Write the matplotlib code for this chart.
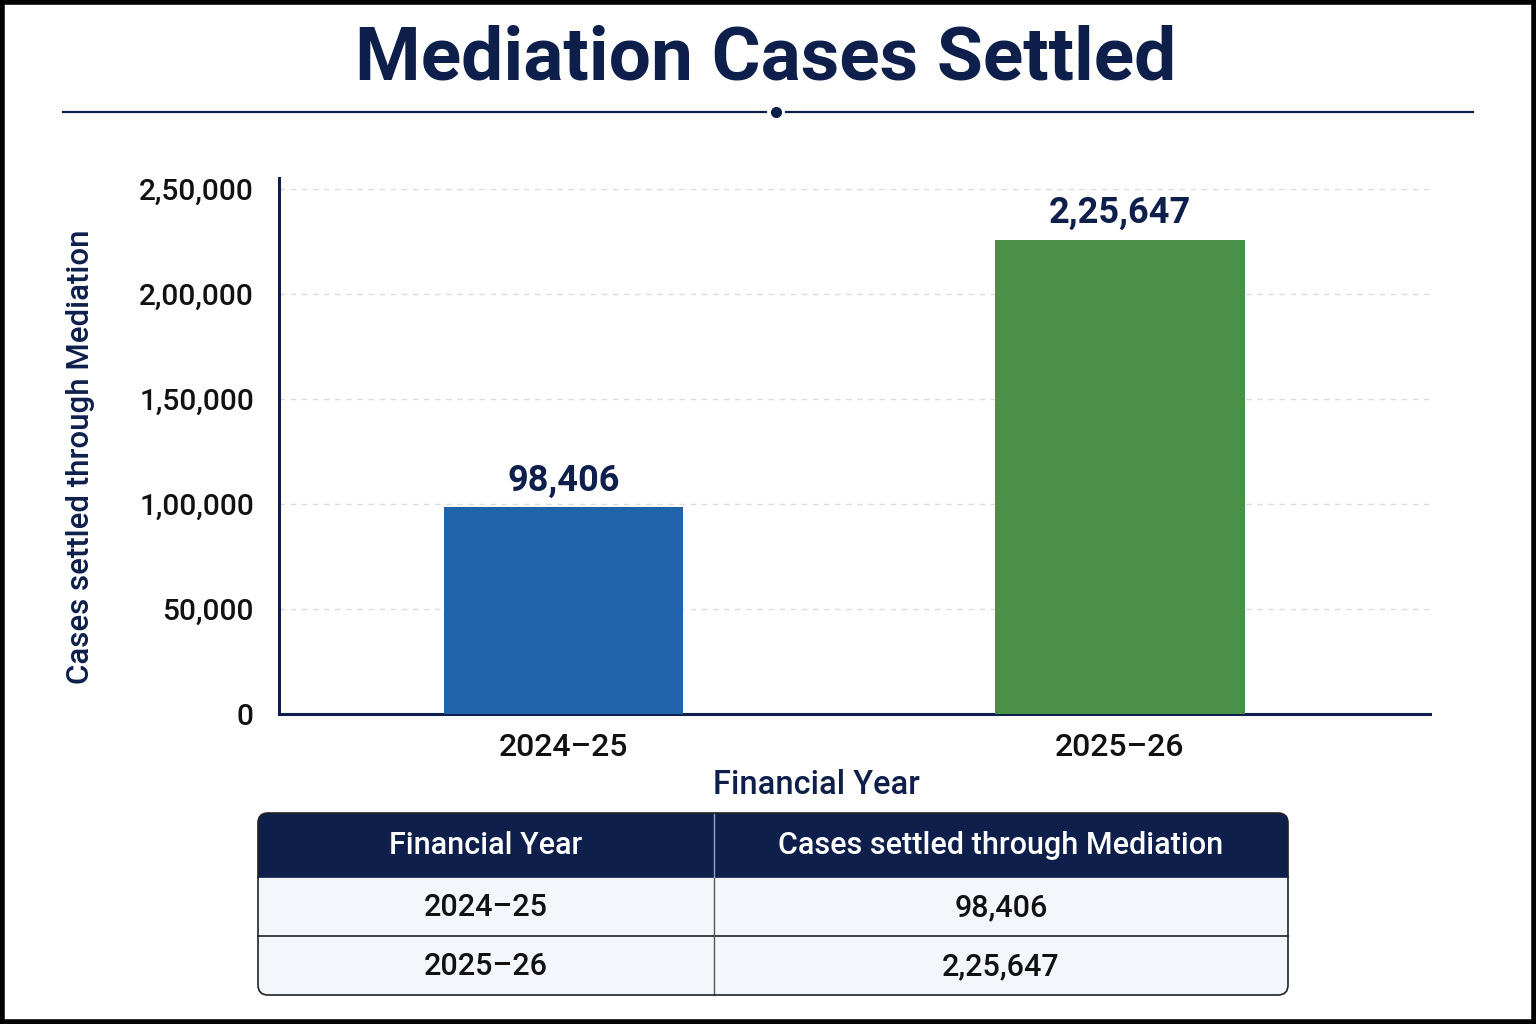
import matplotlib
matplotlib.use("Agg")
import matplotlib.pyplot as plt
from matplotlib.patches import FancyBboxPatch, Rectangle
from matplotlib.ticker import FuncFormatter

# data
years = ["2024\u201325", "2025\u201326"]
cases = [98406, 225647]
bar_colors = ["#2163aa", "#4a9047"]
yticks = [0, 50000, 100000, 150000, 200000, 250000]

NAVY = "#0d1f4a"
plt.rcParams['font.family'] = ['Roboto', 'DejaVu Sans']


def indian(n):
    # indian digit grouping, e.g. 2,25,647
    s = str(int(n))
    if len(s) <= 3:
        return s
    head, tail = s[:-3], s[-3:]
    parts = []
    while len(head) > 2:
        parts.insert(0, head[-2:])
        head = head[:-2]
    if head:
        parts.insert(0, head)
    return ",".join(parts) + "," + tail


W, H = 1536, 1024
fig = plt.figure(figsize=(W / 100, H / 100), dpi=100)
fig.patch.set_facecolor("white")

# overlay axes in pixel coords for title, divider, table, frame
ov = fig.add_axes([0, 0, 1, 1])
ov.set_xlim(0, W)
ov.set_ylim(H, 0)
ov.axis("off")

ov.add_patch(Rectangle((2, 2), W - 4, H - 4, fill=False, ec="black", lw=4))
ov.text(W / 2 - 2, 60, "Mediation Cases Settled", ha="center", va="center",
        fontsize=54, fontweight="bold", color=NAVY)
ov.plot([63, 766], [112, 112], color=NAVY, lw=1.6)
ov.plot([786, 1473], [112, 112], color=NAVY, lw=1.6)
ov.plot([776], [112], "o", color=NAVY, ms=7)

# bar chart
ax = fig.add_axes([279 / W, (H - 714) / H, 1151 / W, (714 - 178) / H])
x = range(len(years))
ax.bar(x, cases, width=[0.43, 0.45], color=bar_colors, zorder=3)
ax.set_xlim(-0.511, 1.557)
ax.set_ylim(0, 255000)
ax.set_yticks(yticks)
ax.yaxis.set_major_formatter(FuncFormatter(lambda v, p: indian(v)))
ax.set_xticks(list(x))
ax.set_xticklabels(years)
ax.tick_params(axis="both", length=0, colors="#111111")
ax.tick_params(axis="y", pad=18, labelsize=21.5)
ax.tick_params(axis="x", pad=14, labelsize=23)
for lab in ax.get_xticklabels() + ax.get_yticklabels():
    lab.set_fontweight("medium")
ax.grid(axis="y", ls=(0, (4, 4)), color="#dddddd", lw=1, zorder=0)
for s in ["top", "right"]:
    ax.spines[s].set_visible(False)
for s in ["left", "bottom"]:
    ax.spines[s].set_color(NAVY)
    ax.spines[s].set_linewidth(2.2)

for i, v in enumerate(cases):
    ax.annotate(indian(v), (i, v), xytext=(0, 6), textcoords="offset points",
                ha="center", va="bottom", fontsize=26, fontweight="bold",
                color=NAVY)

ax.set_xlabel("Financial Year", fontsize=23.5, fontweight="medium", color=NAVY)
ax.xaxis.set_label_coords((816 - 279) / 1151, -0.102)
ax.set_ylabel("Cases settled through Mediation", fontsize=22.5,
              fontweight="medium", color=NAVY)
ax.yaxis.set_label_coords(-0.16, 0.48)

# table below chart
tx0, tx1, tmid = 258, 1288, 714
ty0, ty_head, ty_row, ty1 = 813, 877, 936, 995
BODY = "#f3f6fb"
ov.add_patch(FancyBboxPatch((tx0, ty0), tx1 - tx0, ty1 - ty0,
                            boxstyle="round,pad=0,rounding_size=10",
                            fc=BODY, ec="none", zorder=1))
ov.add_patch(FancyBboxPatch((tx0, ty0), tx1 - tx0, ty_head - ty0 + 14,
                            boxstyle="round,pad=0,rounding_size=10",
                            fc=NAVY, ec="none", zorder=2))
ov.add_patch(Rectangle((tx0, ty_head), tx1 - tx0, 16,
                       fc=BODY, ec="none", zorder=3))
ov.add_patch(FancyBboxPatch((tx0, ty0), tx1 - tx0, ty1 - ty0,
                            boxstyle="round,pad=0,rounding_size=10",
                            fc="none", ec="#222222", lw=1.2, zorder=6))
ov.plot([tx0, tx1], [ty_head, ty_head], color=NAVY, lw=1.2, zorder=4)
ov.plot([tx0, tx1], [ty_row, ty_row], color="#222222", lw=1.2, zorder=4)
ov.plot([tmid, tmid], [ty_head, ty1], color="#555555", lw=1, zorder=4)
ov.plot([tmid, tmid], [ty0, ty_head], color="#9aa3b8", lw=1, zorder=4)

c1 = (tx0 + tmid) / 2
c2 = (tmid + tx1) / 2
ov.text(c1, (ty0 + ty_head) / 2, "Financial Year", ha="center", va="center",
        fontsize=22, fontweight="medium", color="white", zorder=5)
ov.text(c2, (ty0 + ty_head) / 2, "Cases settled through Mediation",
        ha="center", va="center", fontsize=22, fontweight="medium",
        color="white", zorder=5)
rows_y = [(ty_head + ty_row) / 2 + 1, (ty_row + ty1) / 2 + 1]
for yy, yr, v in zip(rows_y, years, cases):
    ov.text(c1, yy, yr, ha="center", va="center", fontsize=22,
            fontweight="medium", color="#111111", zorder=5)
    ov.text(c2, yy, indian(v), ha="center", va="center", fontsize=22,
            fontweight="medium", color="#111111", zorder=5)

fig.savefig("out.png", dpi=100)
